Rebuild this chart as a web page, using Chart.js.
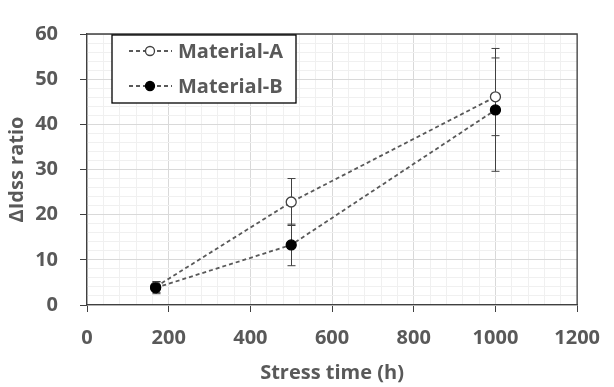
<!DOCTYPE html>
<html>
<head>
<meta charset="utf-8">
<script src="https://cdn.jsdelivr.net/npm/chart.js@4.4.1/dist/chart.umd.min.js"></script>
<style>
  html, body { margin: 0; padding: 0; background: #fff; }
  #wrap { width: 614px; height: 387px; }
</style>
</head>
<body>
<div id="wrap"><canvas id="chartStress"></canvas></div>
<script>
// data
const stressTime = [168, 500, 1000];
const materialA = [4.0, 22.8, 46.1];
const materialB = [3.8, 13.3, 43.2];
const errA = [1.2, 5.2, 8.6];
const errB = [1.3, 4.6, 13.6];
const seriesNames = ["Material-A", "Material-B"];

const textGrey = "#595959";
const axisDark = "#404040";
const fontFam = "'Open Sans', 'DejaVu Sans', sans-serif";

// error bars, drawn under the markers
const errorBarPlugin = {
  id: "errorBars",
  beforeDatasetsDraw(chart) {
    const { ctx, scales } = chart;
    const sets = [[materialA, errA], [materialB, errB]];
    ctx.save();
    ctx.strokeStyle = axisDark;
    ctx.lineWidth = 1;
    sets.forEach(([vals, errs]) => {
      vals.forEach((v, i) => {
        const x = Math.round(scales.x.getPixelForValue(stressTime[i])) + 0.5;
        const yTop = scales.y.getPixelForValue(v + errs[i]);
        const yBot = scales.y.getPixelForValue(v - errs[i]);
        ctx.beginPath();
        ctx.moveTo(x, yTop); ctx.lineTo(x, yBot);
        ctx.moveTo(x - 4, yTop); ctx.lineTo(x + 4, yTop);
        ctx.moveTo(x - 4, yBot); ctx.lineTo(x + 4, yBot);
        ctx.stroke();
      });
    });
    ctx.restore();
  }
};

// box border on top/right + boxed legend
const frameLegendPlugin = {
  id: "frameLegend",
  afterDraw(chart) {
    const { ctx, chartArea: a } = chart;
    ctx.save();
    ctx.strokeStyle = axisDark;
    ctx.lineWidth = 1.3;
    ctx.beginPath();
    ctx.moveTo(a.left, a.top); ctx.lineTo(a.right, a.top); ctx.lineTo(a.right, a.bottom);
    ctx.stroke();

    // legend box
    ctx.strokeStyle = "#000";
    ctx.lineWidth = 1.3;
    ctx.fillStyle = "#fff";
    ctx.fillRect(112, 35, 184, 68);
    ctx.strokeRect(112, 35, 184, 68);

    const rows = [51, 86];
    chart.data.datasets.forEach((ds, i) => {
      const y = rows[i];
      ctx.strokeStyle = "#595959";
      ctx.lineWidth = 1.8;
      ctx.setLineDash([4, 3]);
      ctx.beginPath();
      ctx.moveTo(129, y); ctx.lineTo(172, y);
      ctx.stroke();
      ctx.setLineDash([]);
      ctx.beginPath();
      ctx.arc(150, y, 4.5, 0, Math.PI * 2);
      ctx.fillStyle = ds.pointBackgroundColor;
      ctx.fill();
      ctx.strokeStyle = ds.pointBorderColor;
      ctx.lineWidth = 1.3;
      ctx.stroke();
      ctx.fillStyle = textGrey;
      ctx.font = "bold 20px " + fontFam;
      ctx.textAlign = "left";
      ctx.textBaseline = "middle";
      ctx.fillText(ds.label, 178, y + 1);
    });
    ctx.restore();
  }
};

const toPoints = vals => vals.map((v, i) => ({ x: stressTime[i], y: v }));

new Chart(document.getElementById("chartStress"), {
  type: "scatter",
  data: {
    datasets: [
      {
        label: seriesNames[0],
        data: toPoints(materialA),
        showLine: true,
        borderColor: "#595959",
        borderWidth: 1.8,
        borderDash: [4, 3],
        pointRadius: 5,
        pointBackgroundColor: "#fff",
        pointBorderColor: "#404040",
        pointBorderWidth: 1.3,
        order: 1
      },
      {
        label: seriesNames[1],
        data: toPoints(materialB),
        showLine: true,
        borderColor: "#595959",
        borderWidth: 1.8,
        borderDash: [4, 3],
        pointRadius: 5,
        pointBackgroundColor: "#000",
        pointBorderColor: "#000",
        pointBorderWidth: 1.3,
        order: 0
      }
    ]
  },
  options: {
    responsive: true,
    maintainAspectRatio: false,
    animation: false,
    layout: { padding: { left: 0, top: 16, right: 29, bottom: 0 } },
    plugins: {
      legend: { display: false },
      tooltip: { enabled: false }
    },
    scales: {
      x: {
        type: "linear",
        min: 0,
        max: 1200,
        afterFit: s => { s.height = 82; },
        border: { color: axisDark, width: 1.3 },
        grid: {
          color: c => (c.tick && c.tick.value % 200 === 0 ? "#d9d9d9" : "#f0f0f0"),
          tickColor: c => (c.tick && c.tick.value % 200 === 0 ? axisDark : "rgba(0,0,0,0)"),
          tickLength: 7
        },
        ticks: {
          stepSize: 40,
          autoSkip: false,
          maxRotation: 0,
          padding: 14,
          color: textGrey,
          font: { family: fontFam, size: 20, weight: "bold" },
          callback: v => (v % 200 === 0 ? v : "")
        },
        title: {
          display: true,
          text: "Stress time (h)",
          color: textGrey,
          font: { family: fontFam, size: 20, weight: "bold" },
          padding: { top: 0, bottom: 2 }
        }
      },
      y: {
        min: 0,
        max: 60,
        afterFit: s => { s.width = 87; },
        border: { color: axisDark, width: 1.3 },
        grid: {
          color: c => (c.tick && c.tick.value % 10 === 0 ? "#d9d9d9" : "#f0f0f0"),
          tickColor: c => (c.tick && c.tick.value % 10 === 0 ? axisDark : "rgba(0,0,0,0)"),
          tickLength: 7
        },
        ticks: {
          stepSize: 2,
          autoSkip: false,
          padding: 22,
          color: textGrey,
          font: { family: fontFam, size: 20, weight: "bold" },
          callback: v => (v % 10 === 0 ? v : "")
        },
        title: {
          display: true,
          text: "ΔIdss ratio",
          color: textGrey,
          font: { family: fontFam, size: 20, weight: "bold" },
          padding: { top: 5, bottom: 0 }
        }
      }
    }
  },
  plugins: [errorBarPlugin, frameLegendPlugin]
});
</script>
</body>
</html>
